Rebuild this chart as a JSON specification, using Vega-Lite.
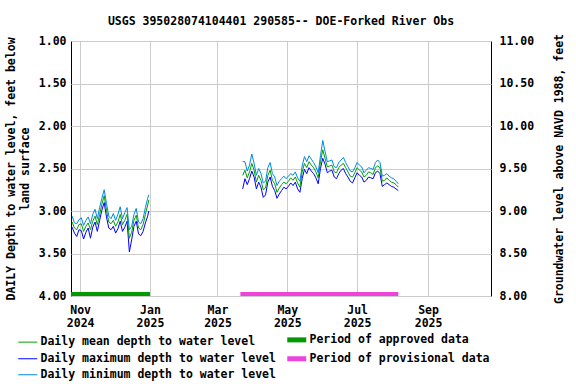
{
  "$schema": "https://vega.github.io/schema/vega-lite/v6.json",
  "width": 420,
  "height": 255,
  "autosize": {"type": "none"},
  "padding": {"left": 71, "top": 41, "right": 85, "bottom": 88},
  "background": "white",
  "title": {"text": "USGS 395028074104401 290585-- DOE-Forked River Obs", "anchor": "middle", "font": "DejaVu Sans Mono", "fontSize": 11.5, "fontWeight": "bold", "color": "black", "offset": 6},
  "config": {
    "view": {"stroke": "black", "strokeWidth": 1},
    "axis": {"labelFont": "DejaVu Sans Mono", "labelFontWeight": "bold", "labelFontSize": 11.5, "labelColor": "black", "titleFont": "DejaVu Sans Mono", "titleFontWeight": "bold", "titleFontSize": 11.5, "titleColor": "black", "gridColor": "#cccccc", "gridOpacity": 1, "ticks": false, "domain": false},
    "legend": {"orient": "none", "legendX": -49, "legendY": 293, "columns": 2, "symbolType": "stroke", "labelFont": "DejaVu Sans Mono", "labelFontWeight": "bold", "labelFontSize": 11.5, "labelColor": "black", "labelLimit": 400, "symbolSize": 361, "rowPadding": -2, "columnPadding": 1, "labelOffset": 7}
  },
  "datasets": {
    "daily": [
      {"date": "2024-10-25", "seg": 1, "mean": 3.13, "min": 3.06, "max": 3.19},
      {"date": "2024-10-27", "seg": 1, "mean": 3.20, "min": 3.14, "max": 3.26},
      {"date": "2024-10-29", "seg": 1, "mean": 3.22, "min": 3.15, "max": 3.30},
      {"date": "2024-10-31", "seg": 1, "mean": 3.16, "min": 3.10, "max": 3.22},
      {"date": "2024-11-02", "seg": 1, "mean": 3.15, "min": 3.08, "max": 3.23},
      {"date": "2024-11-04", "seg": 1, "mean": 3.24, "min": 3.17, "max": 3.33},
      {"date": "2024-11-06", "seg": 1, "mean": 3.18, "min": 3.11, "max": 3.25},
      {"date": "2024-11-08", "seg": 1, "mean": 3.14, "min": 3.07, "max": 3.20},
      {"date": "2024-11-10", "seg": 1, "mean": 3.22, "min": 3.15, "max": 3.32},
      {"date": "2024-11-12", "seg": 1, "mean": 3.12, "min": 3.04, "max": 3.19},
      {"date": "2024-11-14", "seg": 1, "mean": 3.06, "min": 2.98, "max": 3.13},
      {"date": "2024-11-16", "seg": 1, "mean": 3.16, "min": 3.09, "max": 3.24},
      {"date": "2024-11-18", "seg": 1, "mean": 3.04, "min": 2.96, "max": 3.11},
      {"date": "2024-11-20", "seg": 1, "mean": 2.92, "min": 2.85, "max": 2.99},
      {"date": "2024-11-22", "seg": 1, "mean": 2.82, "min": 2.75, "max": 2.90},
      {"date": "2024-11-24", "seg": 1, "mean": 2.99, "min": 2.91, "max": 3.07},
      {"date": "2024-11-26", "seg": 1, "mean": 3.13, "min": 3.06, "max": 3.20},
      {"date": "2024-11-28", "seg": 1, "mean": 3.15, "min": 3.09, "max": 3.22},
      {"date": "2024-11-30", "seg": 1, "mean": 3.11, "min": 3.03, "max": 3.18},
      {"date": "2024-12-02", "seg": 1, "mean": 3.18, "min": 3.11, "max": 3.26},
      {"date": "2024-12-04", "seg": 1, "mean": 3.13, "min": 3.04, "max": 3.21},
      {"date": "2024-12-06", "seg": 1, "mean": 3.04, "min": 2.95, "max": 3.12},
      {"date": "2024-12-08", "seg": 1, "mean": 3.16, "min": 3.09, "max": 3.24},
      {"date": "2024-12-10", "seg": 1, "mean": 3.11, "min": 3.02, "max": 3.19},
      {"date": "2024-12-12", "seg": 1, "mean": 3.04, "min": 2.96, "max": 3.12},
      {"date": "2024-12-14", "seg": 1, "mean": 3.32, "min": 3.22, "max": 3.48},
      {"date": "2024-12-16", "seg": 1, "mean": 3.25, "min": 3.18, "max": 3.34},
      {"date": "2024-12-18", "seg": 1, "mean": 3.11, "min": 3.04, "max": 3.18},
      {"date": "2024-12-20", "seg": 1, "mean": 3.05, "min": 2.97, "max": 3.12},
      {"date": "2024-12-22", "seg": 1, "mean": 3.20, "min": 3.13, "max": 3.27},
      {"date": "2024-12-24", "seg": 1, "mean": 3.22, "min": 3.15, "max": 3.29},
      {"date": "2024-12-26", "seg": 1, "mean": 3.16, "min": 3.09, "max": 3.24},
      {"date": "2024-12-28", "seg": 1, "mean": 3.04, "min": 2.96, "max": 3.14},
      {"date": "2024-12-30", "seg": 1, "mean": 2.93, "min": 2.85, "max": 3.06},
      {"date": "2024-12-31", "seg": 1, "mean": 2.87, "min": 2.81, "max": 3.00},
      {"date": "2025-03-23", "seg": 2, "mean": 2.58, "min": 2.42, "max": 2.74},
      {"date": "2025-03-25", "seg": 2, "mean": 2.52, "min": 2.42, "max": 2.62},
      {"date": "2025-03-27", "seg": 2, "mean": 2.61, "min": 2.53, "max": 2.69},
      {"date": "2025-03-29", "seg": 2, "mean": 2.54, "min": 2.46, "max": 2.62},
      {"date": "2025-03-31", "seg": 2, "mean": 2.44, "min": 2.33, "max": 2.53},
      {"date": "2025-04-02", "seg": 2, "mean": 2.52, "min": 2.44, "max": 2.60},
      {"date": "2025-04-04", "seg": 2, "mean": 2.66, "min": 2.58, "max": 2.74},
      {"date": "2025-04-06", "seg": 2, "mean": 2.58, "min": 2.50, "max": 2.66},
      {"date": "2025-04-08", "seg": 2, "mean": 2.64, "min": 2.56, "max": 2.72},
      {"date": "2025-04-10", "seg": 2, "mean": 2.75, "min": 2.67, "max": 2.84},
      {"date": "2025-04-12", "seg": 2, "mean": 2.73, "min": 2.65, "max": 2.81},
      {"date": "2025-04-14", "seg": 2, "mean": 2.58, "min": 2.49, "max": 2.66},
      {"date": "2025-04-16", "seg": 2, "mean": 2.52, "min": 2.43, "max": 2.60},
      {"date": "2025-04-18", "seg": 2, "mean": 2.64, "min": 2.56, "max": 2.71},
      {"date": "2025-04-20", "seg": 2, "mean": 2.68, "min": 2.60, "max": 2.76},
      {"date": "2025-04-22", "seg": 2, "mean": 2.78, "min": 2.70, "max": 2.85},
      {"date": "2025-04-24", "seg": 2, "mean": 2.73, "min": 2.65, "max": 2.80},
      {"date": "2025-04-26", "seg": 2, "mean": 2.69, "min": 2.62, "max": 2.76},
      {"date": "2025-04-28", "seg": 2, "mean": 2.66, "min": 2.59, "max": 2.72},
      {"date": "2025-04-30", "seg": 2, "mean": 2.68, "min": 2.62, "max": 2.74},
      {"date": "2025-05-02", "seg": 2, "mean": 2.65, "min": 2.59, "max": 2.71},
      {"date": "2025-05-04", "seg": 2, "mean": 2.61, "min": 2.56, "max": 2.67},
      {"date": "2025-05-06", "seg": 2, "mean": 2.64, "min": 2.58, "max": 2.70},
      {"date": "2025-05-08", "seg": 2, "mean": 2.60, "min": 2.54, "max": 2.66},
      {"date": "2025-05-10", "seg": 2, "mean": 2.67, "min": 2.61, "max": 2.74},
      {"date": "2025-05-12", "seg": 2, "mean": 2.72, "min": 2.65, "max": 2.78},
      {"date": "2025-05-14", "seg": 2, "mean": 2.54, "min": 2.47, "max": 2.62},
      {"date": "2025-05-16", "seg": 2, "mean": 2.44, "min": 2.36, "max": 2.51},
      {"date": "2025-05-18", "seg": 2, "mean": 2.49, "min": 2.42, "max": 2.56},
      {"date": "2025-05-20", "seg": 2, "mean": 2.42, "min": 2.35, "max": 2.49},
      {"date": "2025-05-22", "seg": 2, "mean": 2.46, "min": 2.39, "max": 2.53},
      {"date": "2025-05-24", "seg": 2, "mean": 2.49, "min": 2.43, "max": 2.56},
      {"date": "2025-05-26", "seg": 2, "mean": 2.54, "min": 2.48, "max": 2.61},
      {"date": "2025-05-28", "seg": 2, "mean": 2.61, "min": 2.55, "max": 2.68},
      {"date": "2025-05-30", "seg": 2, "mean": 2.42, "min": 2.35, "max": 2.50},
      {"date": "2025-06-01", "seg": 2, "mean": 2.28, "min": 2.17, "max": 2.38},
      {"date": "2025-06-03", "seg": 2, "mean": 2.38, "min": 2.30, "max": 2.45},
      {"date": "2025-06-05", "seg": 2, "mean": 2.48, "min": 2.42, "max": 2.55},
      {"date": "2025-06-07", "seg": 2, "mean": 2.47, "min": 2.41, "max": 2.53},
      {"date": "2025-06-09", "seg": 2, "mean": 2.46, "min": 2.40, "max": 2.52},
      {"date": "2025-06-11", "seg": 2, "mean": 2.54, "min": 2.48, "max": 2.60},
      {"date": "2025-06-13", "seg": 2, "mean": 2.55, "min": 2.49, "max": 2.62},
      {"date": "2025-06-15", "seg": 2, "mean": 2.49, "min": 2.43, "max": 2.56},
      {"date": "2025-06-17", "seg": 2, "mean": 2.46, "min": 2.40, "max": 2.52},
      {"date": "2025-06-19", "seg": 2, "mean": 2.44, "min": 2.37, "max": 2.50},
      {"date": "2025-06-21", "seg": 2, "mean": 2.49, "min": 2.43, "max": 2.56},
      {"date": "2025-06-23", "seg": 2, "mean": 2.54, "min": 2.48, "max": 2.60},
      {"date": "2025-06-25", "seg": 2, "mean": 2.59, "min": 2.53, "max": 2.65},
      {"date": "2025-06-27", "seg": 2, "mean": 2.60, "min": 2.54, "max": 2.67},
      {"date": "2025-06-29", "seg": 2, "mean": 2.55, "min": 2.49, "max": 2.61},
      {"date": "2025-07-01", "seg": 2, "mean": 2.49, "min": 2.43, "max": 2.55},
      {"date": "2025-07-03", "seg": 2, "mean": 2.52, "min": 2.46, "max": 2.58},
      {"date": "2025-07-05", "seg": 2, "mean": 2.54, "min": 2.48, "max": 2.60},
      {"date": "2025-07-07", "seg": 2, "mean": 2.60, "min": 2.55, "max": 2.66},
      {"date": "2025-07-09", "seg": 2, "mean": 2.58, "min": 2.52, "max": 2.64},
      {"date": "2025-07-11", "seg": 2, "mean": 2.54, "min": 2.49, "max": 2.60},
      {"date": "2025-07-13", "seg": 2, "mean": 2.55, "min": 2.50, "max": 2.61},
      {"date": "2025-07-15", "seg": 2, "mean": 2.57, "min": 2.51, "max": 2.62},
      {"date": "2025-07-17", "seg": 2, "mean": 2.49, "min": 2.43, "max": 2.55},
      {"date": "2025-07-19", "seg": 2, "mean": 2.47, "min": 2.40, "max": 2.53},
      {"date": "2025-07-21", "seg": 2, "mean": 2.49, "min": 2.43, "max": 2.56},
      {"date": "2025-07-23", "seg": 2, "mean": 2.65, "min": 2.59, "max": 2.71},
      {"date": "2025-07-25", "seg": 2, "mean": 2.64, "min": 2.58, "max": 2.69},
      {"date": "2025-07-27", "seg": 2, "mean": 2.61, "min": 2.56, "max": 2.67},
      {"date": "2025-07-29", "seg": 2, "mean": 2.64, "min": 2.59, "max": 2.69},
      {"date": "2025-07-31", "seg": 2, "mean": 2.66, "min": 2.61, "max": 2.71},
      {"date": "2025-08-02", "seg": 2, "mean": 2.67, "min": 2.62, "max": 2.72},
      {"date": "2025-08-04", "seg": 2, "mean": 2.69, "min": 2.65, "max": 2.74},
      {"date": "2025-08-06", "seg": 2, "mean": 2.72, "min": 2.68, "max": 2.76}
    ],
    "periods": [
      {"series": "approved", "start": "2024-10-24", "end": "2025-01-01"},
      {"series": "provisional", "start": "2025-03-21", "end": "2025-08-06"}
    ]
  },
  "layer": [
    {
      "data": {"name": "daily"},
      "transform": [{"fold": ["max", "mean", "min"], "as": ["series", "depth"]}],
      "mark": {"type": "line", "interpolate": "linear", "strokeWidth": 1},
      "encoding": {
        "x": {"field": "date", "type": "temporal",
          "scale": {"type": "utc", "domain": [{"year": 2024, "month": 10, "date": 24, "utc": true}, {"year": 2025, "month": 10, "date": 26, "utc": true}]},
          "axis": {"title": null, "grid": true, "labelPadding": 8, "labelLineHeight": 13, "labelBaseline": "top",
            "values": [{"year": 2024, "month": 11, "date": 1, "utc": true}, {"year": 2025, "month": 1, "date": 1, "utc": true}, {"year": 2025, "month": 3, "date": 1, "utc": true}, {"year": 2025, "month": 5, "date": 1, "utc": true}, {"year": 2025, "month": 7, "date": 1, "utc": true}, {"year": 2025, "month": 9, "date": 1, "utc": true}],
            "labelExpr": "[utcFormat(datum.value, '%b'), utcFormat(datum.value, '%Y')]"}},
        "y": {"field": "depth", "type": "quantitative",
          "scale": {"domain": [1, 4], "reverse": true, "zero": false, "nice": false},
          "axis": {"orient": "left", "grid": true, "values": [1, 1.5, 2, 2.5, 3, 3.5, 4], "format": ".2f", "labelPadding": 5,
            "title": ["DAILY Depth to water level, feet below", "land surface"], "titlePadding": 8}},
        "color": {"field": "series", "type": "nominal",
          "scale": {"domain": ["mean", "max", "min", "approved", "provisional"], "range": ["#00a000", "#0000ff", "#0088dd", "#009900", "#ee44dd"]},
          "legend": {"title": null,
            "labelExpr": "datum.label == 'mean' ? 'Daily mean depth to water level' : datum.label == 'max' ? 'Daily maximum depth to water level' : datum.label == 'min' ? 'Daily minimum depth to water level' : datum.label == 'approved' ? 'Period of approved data' : 'Period of provisional data'",
            "encode": {"symbols": {"update": {"strokeWidth": {"signal": "indexof(['approved', 'provisional'], datum.value) >= 0 ? 5 : 1"}}}}}},
        "detail": {"field": "seg", "type": "nominal"}
      }
    },
    {
      "data": {"name": "periods"},
      "mark": {"type": "rule", "strokeWidth": 4},
      "encoding": {
        "x": {"field": "start", "type": "temporal"},
        "x2": {"field": "end"},
        "y": {"datum": 3.975, "type": "quantitative",
          "scale": {"domain": [1, 4], "reverse": true, "zero": false, "nice": false},
          "axis": {"orient": "right", "grid": false, "values": [1, 1.5, 2, 2.5, 3, 3.5, 4], "labelExpr": "format(12 - datum.value, '.2f')", "labelPadding": 8,
            "title": "Groundwater level above NAVD 1988, feet", "titleAngle": 270, "titlePadding": 31}},
        "color": {"field": "series", "type": "nominal", "legend": null}
      }
    }
  ],
  "resolve": {"scale": {"y": "independent"}}
}
